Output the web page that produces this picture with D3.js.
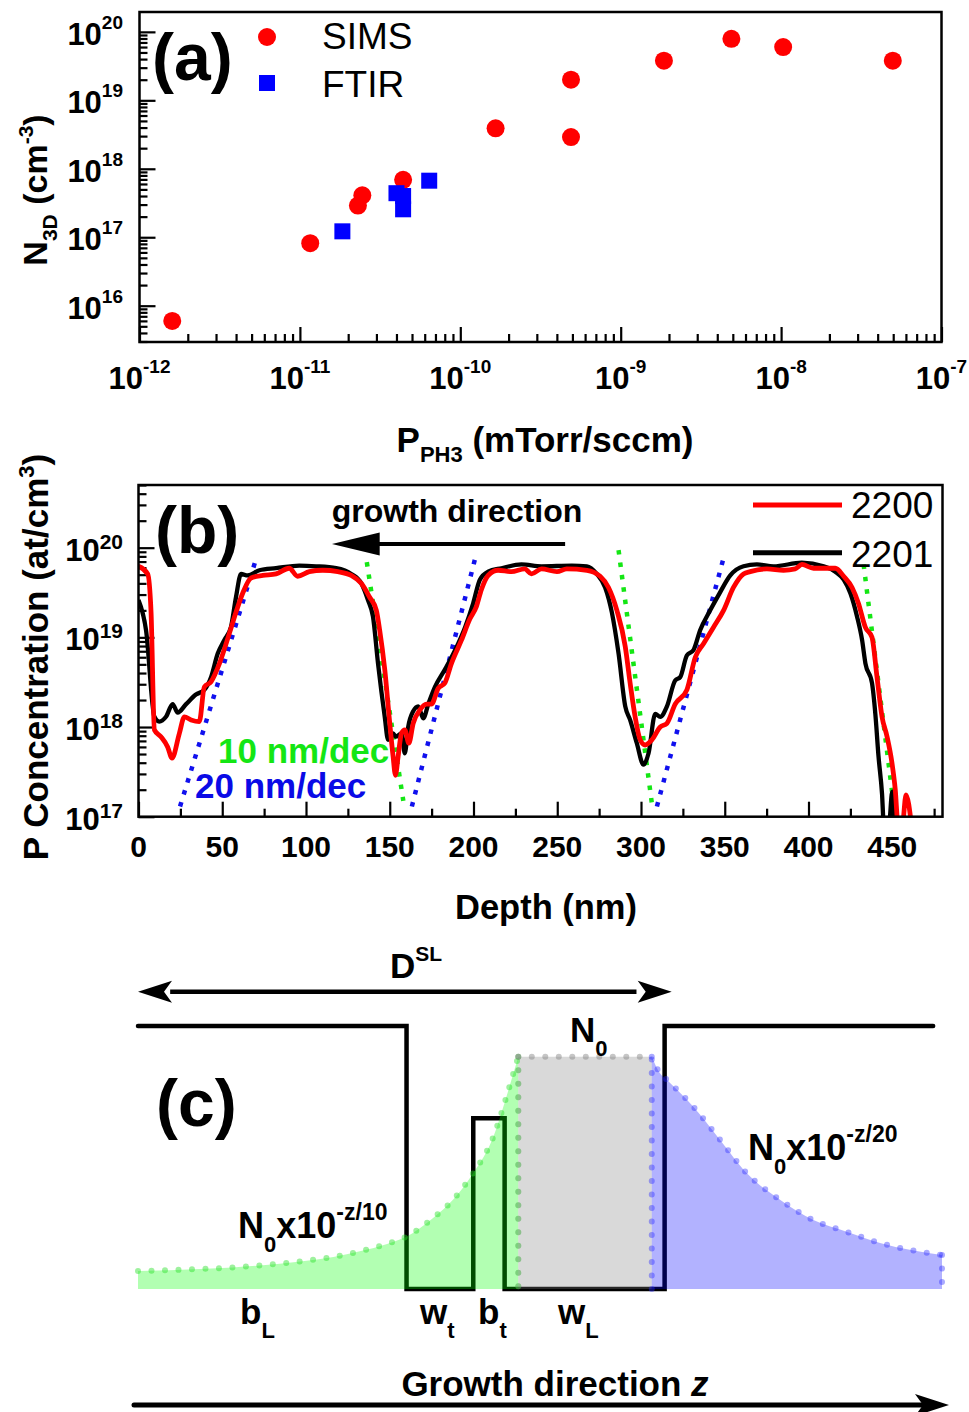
<!DOCTYPE html>
<html>
<head>
<meta charset="utf-8">
<script src="https://cdn.jsdelivr.net/npm/d3@7/dist/d3.min.js"></script>
<style>
  body { margin: 0; background: #fff; }
  svg { display: block; }
  text { font-family: "Liberation Sans", Arial, Helvetica, sans-serif; fill: #000; }
</style>
</head>
<body>
<svg id="fig" width="969" height="1412"></svg>
<script>
// ---- panel (a): 3D doping vs PH3 pressure
const simsP = [1.6e-12, 1.16e-11, 2.3e-11, 2.45e-11, 4.4e-11, 1.66e-10, 4.9e-10, 4.9e-10, 1.86e-9, 4.9e-9, 1.03e-8, 4.97e-8];
const simsN = [6e15, 8.2e16, 2.9e17, 4.1e17, 6.9e17, 3.9e18, 2.0e19, 2.9e18, 3.8e19, 7.9e19, 6.0e19, 3.8e19];
const ftirP = [1.84e-11, 4.0e-11, 4.4e-11, 4.4e-11, 6.4e-11];
const ftirN = [1.22e17, 4.4e17, 4.0e17, 2.56e17, 6.7e17];
const pMajor = [1e-12, 1e-11, 1e-10, 1e-9, 1e-8, 1e-7];
const pExp = ["-12", "-11", "-10", "-9", "-8", "-7"];
const nMajor = [1e16, 1e17, 1e18, 1e19, 1e20];
const nExp = ["16", "17", "18", "19", "20"];

// ---- panel (b): SIMS depth profiles
const depth2200 = [0, 5.5, 7.5, 9.5, 13.4, 17.4, 20, 24.4, 27.4, 31.4, 36.3, 39.3, 43.3, 48.3, 54.2, 58.2, 62.2, 67.2, 74.2, 82.1, 90, 95, 102, 110,
  119, 127, 133, 138, 142, 144, 147, 150, 152, 153.4, 155, 157, 159, 161.4, 164, 168, 171.9, 174.9, 178.9, 182.9, 186.8, 192.8, 197.8, 201.7, 204.7, 208.7, 214.7, 222.6, 230.6, 234.6, 240.6,
  249.8, 255.7, 267.7, 275.6, 280.6, 285.6, 290.6, 293.5, 296.5, 299.5, 302.5, 306.5, 311.5, 315.5, 320.4, 327.4, 332.4, 337.3, 343.3, 349.3, 355.2, 361.2,
  365.2, 375.2, 385.1, 392, 396.1, 403, 411, 416, 421, 426, 429.8, 433.9, 437.9, 440.9, 443.9, 446.9, 449.8, 451.8, 453.5, 456, 458.2, 461.5];
const conc2200 = [6.2e19, 5.1e19, 1.9e19, 9.3e17, 7.8e17, 6.0e17, 4.5e17, 8.5e17, 1.3e18, 1.2e18, 1.15e18, 2.8e18, 3.2e18, 5.1e18, 1.1e19, 1.9e19, 3.1e19, 4.6e19, 4.9e19, 5.1e19, 5.9e19, 4.8e19, 5.4e19, 5.6e19,
  5.4e19, 4.9e19, 4.0e19, 2.8e19, 2.0e19, 1.2e19, 4.4e18, 1.1e18, 4.7e17, 2.9e17, 4.7e17, 8.5e17, 9.3e17, 6.6e17, 1.1e18, 1.55e18, 1.8e18, 1.8e18, 2.7e18, 3.1e18, 5.1e18, 9.3e18, 1.6e19, 2.2e19, 3.4e19, 4.9e19, 5.6e19, 5.4e19, 5.8e19, 5.1e19, 5.8e19,
  5.4e19, 5.8e19, 5.6e19, 4.8e19, 3.6e19, 2.0e19, 7.9e18, 3.1e18, 1.3e18, 7.2e17, 6.3e17, 7.2e17, 1.0e18, 1.1e18, 1.8e18, 2.6e18, 6.0e18, 8.5e18, 1.3e19, 2.0e19, 3.6e19, 5.1e19,
  5.4e19, 5.8e19, 5.6e19, 5.8e19, 6.5e19, 5.9e19, 5.9e19, 5.9e19, 4.8e19, 3.6e19, 2.4e19, 1.3e19, 1.0e19, 3.6e18, 1.3e18, 7.8e17, 4.0e17, 2.0e17, 8e16, 8e16, 1.75e17, 8e16];
const depth2201 = [0, 4.5, 9.5, 12.4, 16.4, 20.4, 23.4, 28.4, 34.3, 39.3, 43.3, 47.3, 51.2, 55.2, 58.2, 61.2, 65.2, 72.2, 82.1, 96, 106, 118,
  127, 133, 137, 140, 143, 147, 149, 152, 153.5, 157, 159, 161, 164, 167, 170, 173, 177, 183, 189, 195, 199.8, 203.8, 208.7, 216.7, 228.6, 240.6,
  258.7, 267.7, 273.6, 278.6, 282.6, 286.6, 290.6, 293.5, 297.5, 301.5, 304.5, 308.5, 311.5, 315.5, 320.4, 323.4, 327.4, 331.3, 335.3, 341.3, 347.3, 353.3, 361.2,
  369.2, 379.1, 396, 409, 416, 421, 425, 429, 432, 434, 437.9, 439.9, 441.8, 443.9, 445, 448, 450, 451.5];
const conc2201 = [2.6e19, 1.2e19, 1.3e18, 1.15e18, 1.3e18, 1.8e18, 1.45e18, 1.8e18, 2.3e18, 2.6e18, 3.6e18, 6.6e18, 9.3e18, 1.3e19, 2.8e19, 5.1e19, 4.9e19, 5.6e19, 5.9e19, 6.3e19, 6.2e19, 5.9e19,
  5.1e19, 4.0e19, 2.6e19, 1.7e19, 5.1e18, 1.3e18, 7.2e17, 8.5e17, 7.8e17, 8.5e17, 5.1e17, 1.0e18, 1.5e18, 1.7e18, 1.25e18, 1.8e18, 2.8e18, 4.4e18, 7.2e18, 1.3e19, 2.4e19, 4.4e19, 5.4e19, 5.9e19, 6.5e19, 6.2e19,
  6.3e19, 6.2e19, 5.1e19, 3.6e19, 1.9e19, 6.6e18, 1.7e18, 1.2e18, 6.6e17, 3.8e17, 5.1e17, 1.4e18, 1.3e18, 1.7e18, 3.3e18, 3.6e18, 6.3e18, 7.2e18, 1.2e19, 2.0e19, 3.2e19, 4.9e19, 6.2e19,
  6.5e19, 6.2e19, 6.8e19, 6.2e19, 5.4e19, 4.4e19, 3.1e19, 1.7e19, 9.3e18, 5.1e18, 3.1e18, 1.4e18, 4.7e17, 1.8e17, 8e16, 8e16, 1.9e17, 8e16];
// guide slopes: [startDepth, endDepth], [startConc, endConc]
const slope20Depth = [[24.8, 69.6], [163.2, 201], [309.5, 348.9]];
const slope20Conc = [[1.3e17, 6.9e19], [1.3e17, 7.6e19], [1.3e17, 7.2e19]];
const slope10Depth = [[136.3, 158.1], [286.6, 306.5], [432.9, 450.8]];
const slope10Conc = [[6.9e19, 1.5e17], [9.4e19, 1.4e17], [6.5e19, 1.4e17]];
const depthMajor = [0, 50, 100, 150, 200, 250, 300, 350, 400, 450];
const depthMinor = [25, 75, 125, 175, 225, 275, 325, 375, 425, 475];
const concMajor = [1e17, 1e18, 1e19, 1e20];
const concExp = ["17", "18", "19", "20"];

// ---- panel (c): schematic (arbitrary units, z 0..100, n 0..1)
const stepZ = [0, 33.4, 33.4, 41.7, 41.7, 45.6, 45.6, 65.5, 65.5, 98.9];
const stepN = [1, 1, 0, 0, 0.649, 0.649, 0, 0, 1, 1];
const greenZ = [0, 7.7, 11.8, 20.2, 24.3, 28.5, 31.8, 33.3, 36.7, 39.2, 41.7, 44.2, 45.7, 46.7, 47.3];
const greenN = [0.068, 0.076, 0.082, 0.105, 0.122, 0.150, 0.180, 0.198, 0.27, 0.340, 0.441, 0.579, 0.719, 0.821, 0.883];
const wellZ = [47.3, 63.9];
const wellN = 0.883;
const blueZ = [63.9, 64.9, 65.8, 69.1, 72.4, 75.7, 79.9, 84.0, 88.2, 92.3, 100];
const blueN = [0.883, 0.821, 0.795, 0.692, 0.567, 0.441, 0.338, 0.262, 0.217, 0.175, 0.129];

const svg = d3.select("#fig");
const isMajor = v => Math.abs(Math.log10(v) - Math.round(Math.log10(v))) < 1e-6;

function tickAxis(g, axis) {
  g.call(axis);
  g.select(".domain").remove();
  g.selectAll(".tick text").remove();
  g.selectAll(".tick line").attr("stroke", "#000").attr("stroke-width", 2.2);
}

function powLabel(g, x, y, exp, anchor, size, supSize, rise) {
  const t = g.append("text").attr("x", x).attr("y", y)
    .attr("text-anchor", anchor).attr("font-size", size).attr("font-weight", "bold");
  t.append("tspan").text("10");
  t.append("tspan").attr("dy", -rise).attr("font-size", supSize).text(exp);
}

// =============== (a)
const xA = d3.scaleLog().domain([1e-12, 1e-7]).range([139.5, 941.5]);
const yA = d3.scaleLog().domain([2.95e15, 1.95e20]).range([342, 12]);
const gA = svg.append("g");

gA.append("g").attr("transform", "translate(0,342)")
  .call(g => tickAxis(g, d3.axisBottom(xA).tickValues(pMajor).tickSize(-15)));
gA.append("g").attr("transform", "translate(0,342)")
  .call(g => tickAxis(g, d3.axisBottom(xA).tickValues(xA.ticks().filter(v => !isMajor(v))).tickSize(-8)));
gA.append("g").attr("transform", "translate(139.5,0)")
  .call(g => tickAxis(g, d3.axisLeft(yA).tickValues(nMajor).tickSize(-16)));
gA.append("g").attr("transform", "translate(139.5,0)")
  .call(g => tickAxis(g, d3.axisLeft(yA).tickValues(yA.ticks().filter(v => !isMajor(v))).tickSize(-8)));

gA.append("rect").attr("x", 139.5).attr("y", 12).attr("width", 802).attr("height", 330)
  .attr("fill", "none").attr("stroke", "#000").attr("stroke-width", 2.5);

pMajor.forEach((v, i) => powLabel(gA, xA(v), 389, pExp[i], "middle", 31, 19, 16));
nMajor.forEach((v, i) => powLabel(gA, 123, yA(v) + 13, nExp[i], "end", 31, 19, 16));

gA.append("g").selectAll("circle").data(simsP).join("circle")
  .attr("cx", d => xA(d)).attr("cy", (d, i) => yA(simsN[i])).attr("r", 9).attr("fill", "#ff0000");
gA.append("g").selectAll("rect").data(ftirP).join("rect")
  .attr("x", d => xA(d) - 8).attr("y", (d, i) => yA(ftirN[i]) - 8)
  .attr("width", 16).attr("height", 16).attr("fill", "#0000ff");

// legend
gA.append("circle").attr("cx", 267).attr("cy", 37).attr("r", 9).attr("fill", "#ff0000");
gA.append("text").attr("x", 322).attr("y", 48.5).attr("font-size", 37).text("SIMS");
gA.append("rect").attr("x", 259).attr("y", 75).attr("width", 16).attr("height", 16).attr("fill", "#0000ff");
gA.append("text").attr("x", 322).attr("y", 96.5).attr("font-size", 37).text("FTIR");
gA.append("text").attr("x", 152).attr("y", 80).attr("font-size", 66).attr("font-weight", "bold").text("(a)");

// axis titles
const tA = gA.append("text").attr("x", 545).attr("y", 452).attr("text-anchor", "middle")
  .attr("font-size", 35).attr("font-weight", "bold");
tA.append("tspan").text("P");
tA.append("tspan").attr("dy", 10).attr("font-size", 22).text("PH3");
tA.append("tspan").attr("dy", -10).text(" (mTorr/sccm)");

const tyA = gA.append("text").attr("transform", "translate(47,190) rotate(-90)")
  .attr("text-anchor", "middle").attr("font-size", 34).attr("font-weight", "bold");
tyA.append("tspan").text("N");
tyA.append("tspan").attr("dy", 10).attr("font-size", 21).text("3D");
tyA.append("tspan").attr("dy", -10).text(" (cm");
tyA.append("tspan").attr("dy", -14).attr("font-size", 21).text("-3");
tyA.append("tspan").attr("dy", 14).text(")");

// =============== (b)
const xB = d3.scaleLinear().domain([0, 480]).range([138.5, 942.5]);
const yB = d3.scaleLog().domain([1e17, 5e20]).range([816.7, 485]);
const gB = svg.append("g");

gB.append("g").attr("transform", "translate(0,816.7)")
  .call(g => tickAxis(g, d3.axisBottom(xB).tickValues(depthMajor).tickSize(-15)));
gB.append("g").attr("transform", "translate(0,816.7)")
  .call(g => tickAxis(g, d3.axisBottom(xB).tickValues(depthMinor).tickSize(-8)));
gB.append("g").attr("transform", "translate(138.5,0)")
  .call(g => tickAxis(g, d3.axisLeft(yB).tickValues(concMajor).tickSize(-16)));
gB.append("g").attr("transform", "translate(138.5,0)")
  .call(g => tickAxis(g, d3.axisLeft(yB).tickValues(yB.ticks().filter(v => !isMajor(v))).tickSize(-8)));

depthMajor.forEach(v => gB.append("text").attr("x", xB(v)).attr("y", 857)
  .attr("text-anchor", "middle").attr("font-size", 30).attr("font-weight", "bold").text(v));
concMajor.forEach((v, i) => powLabel(gB, 123, yB(v) + 13, concExp[i], "end", 31, 21, 12));

svg.append("defs").append("clipPath").attr("id", "clipB")
  .append("rect").attr("x", 138.5).attr("y", 485).attr("width", 804).attr("height", 331.7);

const plotB = gB.append("g").attr("clip-path", "url(#clipB)");
const lineB = d3.line().x(d => xB(d[0])).y(d => yB(d[1]));
const curveB = d3.line().x(d => xB(d[0])).y(d => yB(d[1])).curve(d3.curveMonotoneX);

// guide slopes
slope20Depth.forEach((dd, i) => plotB.append("path")
  .attr("d", lineB([[dd[0], slope20Conc[i][0]], [dd[1], slope20Conc[i][1]]]))
  .attr("stroke", "#1010ee").attr("stroke-width", 4.5).attr("stroke-dasharray", "4.5 8").attr("fill", "none"));
slope10Depth.forEach((dd, i) => plotB.append("path")
  .attr("d", lineB([[dd[0], slope10Conc[i][0]], [dd[1], slope10Conc[i][1]]]))
  .attr("stroke", "#14e614").attr("stroke-width", 4.5).attr("stroke-dasharray", "4.5 8").attr("fill", "none"));

plotB.append("path").attr("d", curveB(depth2201.map((d, i) => [d, conc2201[i]])))
  .attr("fill", "none").attr("stroke", "#000").attr("stroke-width", 4.3).attr("stroke-linejoin", "round");
plotB.append("path").attr("d", curveB(depth2200.map((d, i) => [d, conc2200[i]])))
  .attr("fill", "none").attr("stroke", "#ff0000").attr("stroke-width", 4.8).attr("stroke-linejoin", "round");

gB.append("rect").attr("x", 138.5).attr("y", 485).attr("width", 804).attr("height", 331.7)
  .attr("fill", "none").attr("stroke", "#000").attr("stroke-width", 2.5);

// annotations
gB.append("text").attr("x", 155).attr("y", 553).attr("font-size", 66).attr("font-weight", "bold").text("(b)");
gB.append("text").attr("x", 331.7).attr("y", 521.7).attr("font-size", 32).attr("font-weight", "bold").text("growth direction");
gB.append("line").attr("x1", xB(254.7)).attr("x2", xB(142)).attr("y1", 544).attr("y2", 544)
  .attr("stroke", "#000").attr("stroke-width", 4);
gB.append("path").attr("d", d3.line()([[xB(115.5), 544], [xB(144), 532.5], [xB(144), 555.5]]) + "Z").attr("fill", "#000");
gB.append("text").attr("x", 218).attr("y", 763.3).attr("font-size", 35).attr("font-weight", "bold")
  .style("fill", "#14e614").text("10 nm/dec");
gB.append("text").attr("x", 195).attr("y", 798).attr("font-size", 35).attr("font-weight", "bold")
  .style("fill", "#0a0ae6").text("20 nm/dec");

gB.append("line").attr("x1", 753).attr("x2", 842).attr("y1", 505).attr("y2", 505)
  .attr("stroke", "#ff0000").attr("stroke-width", 5);
gB.append("text").attr("x", 851).attr("y", 518.3).attr("font-size", 37).text("2200");
gB.append("line").attr("x1", 753).attr("x2", 842).attr("y1", 552.7).attr("y2", 552.7)
  .attr("stroke", "#000").attr("stroke-width", 5);
gB.append("text").attr("x", 851).attr("y", 566.7).attr("font-size", 37).text("2201");

gB.append("text").attr("x", 546).attr("y", 919).attr("text-anchor", "middle")
  .attr("font-size", 34.5).attr("font-weight", "bold").text("Depth (nm)");
const tyB = gB.append("text").attr("transform", "translate(48,657) rotate(-90)")
  .attr("text-anchor", "middle").attr("font-size", 35).attr("font-weight", "bold");
tyB.append("tspan").text("P Concentration (at/cm");
tyB.append("tspan").attr("dy", -14).attr("font-size", 22).text("3");
tyB.append("tspan").attr("dy", 14).text(")");

// =============== (c)
const zC = d3.scaleLinear().domain([0, 100]).range([138, 942]);
const nC = d3.scaleLinear().domain([0, 1]).range([1289, 1026]);
const gC = svg.append("g");

const stepLine = d3.line().x(d => zC(d[0])).y(d => nC(d[1]));
gC.append("path").attr("d", stepLine(stepZ.map((z, i) => [z, stepN[i]])))
  .attr("fill", "none").attr("stroke", "#000").attr("stroke-width", 4.5).attr("stroke-linecap", "round");

const areaC = d3.area().x(d => zC(d[0])).y0(nC(0)).y1(d => nC(d[1])).curve(d3.curveMonotoneX);
const lineC = d3.line().x(d => zC(d[0])).y(d => nC(d[1])).curve(d3.curveMonotoneX);
const greenPts = greenZ.map((z, i) => [z, greenN[i]]);
const bluePts = blueZ.map((z, i) => [z, blueN[i]]);
const wellPts = [[wellZ[0], wellN], [wellZ[1], wellN]];

gC.append("path").attr("d", areaC(greenPts)).attr("fill", "#00ff00").attr("fill-opacity", 0.3);
gC.append("path").attr("d", areaC(wellPts)).attr("fill", "#808080").attr("fill-opacity", 0.3);
gC.append("path").attr("d", areaC(bluePts)).attr("fill", "#0000ff").attr("fill-opacity", 0.3);

function dotted(d, color) {
  gC.append("path").attr("d", d).attr("fill", "none").attr("stroke", color)
    .attr("stroke-width", 6).attr("stroke-linecap", "round").attr("stroke-dasharray", "0 13.5");
}
dotted(lineC(greenPts), "rgba(40,225,40,0.45)");
dotted(stepLine([[wellZ[0], wellN], [wellZ[0], 0]]), "rgba(40,225,40,0.4)");
dotted(stepLine(wellPts), "rgba(128,128,128,0.45)");
dotted(stepLine([[wellZ[0], wellN], [wellZ[0], 0]]), "rgba(128,128,128,0.3)");
dotted(stepLine([[wellZ[1], 0], [wellZ[1], wellN]]), "rgba(40,40,255,0.4)");
dotted(lineC(bluePts), "rgba(40,40,255,0.4)");
dotted(stepLine([[blueZ[blueZ.length - 1], blueN[blueN.length - 1]], [blueZ[blueZ.length - 1], 0]]), "rgba(40,40,255,0.4)");

// arrows
function arrowHead(g, tipX, y, dir) {
  const L = 34, Hh = 11, N = 8;
  g.append("path").attr("d", d3.line()([[tipX, y], [tipX - dir * L, y - Hh], [tipX - dir * (L - N), y], [tipX - dir * L, y + Hh]]) + "Z")
    .attr("fill", "#000");
}
gC.append("line").attr("x1", zC(4)).attr("x2", zC(62)).attr("y1", 991.7).attr("y2", 991.7)
  .attr("stroke", "#000").attr("stroke-width", 4.5);
arrowHead(gC, zC(0), 991.7, -1);
arrowHead(gC, 671.7, 991.7, 1);

gC.append("line").attr("x1", 134).attr("x2", 925).attr("y1", 1405).attr("y2", 1405)
  .attr("stroke", "#000").attr("stroke-width", 5).attr("stroke-linecap", "round");
arrowHead(gC, 949, 1405, 1);

// labels
function subLabel(x, y, main, sub, size, subSize) {
  const t = gC.append("text").attr("x", x).attr("y", y).attr("font-size", size).attr("font-weight", "bold");
  t.append("tspan").text(main);
  t.append("tspan").attr("dy", 14).attr("font-size", subSize).text(sub);
  return t;
}
const dsl = gC.append("text").attr("x", 390).attr("y", 978.3).attr("font-size", 35).attr("font-weight", "bold");
dsl.append("tspan").text("D");
dsl.append("tspan").attr("dy", -17).attr("font-size", 21).text("SL");

subLabel(570, 1041.7, "N", "0", 35, 22);

const f10 = subLabel(238, 1238, "N", "0", 36, 22);
f10.append("tspan").attr("dy", -14).text("x10");
f10.append("tspan").attr("dy", -18).attr("font-size", 23).text("-z/10");
const f20 = subLabel(748, 1160, "N", "0", 36, 22);
f20.append("tspan").attr("dy", -14).text("x10");
f20.append("tspan").attr("dy", -18).attr("font-size", 23).text("-z/20");

subLabel(240, 1324, "b", "L", 35, 22);
subLabel(420, 1324, "w", "t", 35, 22);
subLabel(478, 1324, "b", "t", 35, 22);
subLabel(558, 1324, "w", "L", 35, 22);

gC.append("text").attr("x", 156).attr("y", 1126).attr("font-size", 66).attr("font-weight", "bold").text("(c)");
const gd = gC.append("text").attr("x", 555).attr("y", 1396).attr("text-anchor", "middle")
  .attr("font-size", 35).attr("font-weight", "bold");
gd.append("tspan").text("Growth direction ");
gd.append("tspan").attr("font-style", "italic").text("z");
</script>
</body>
</html>
